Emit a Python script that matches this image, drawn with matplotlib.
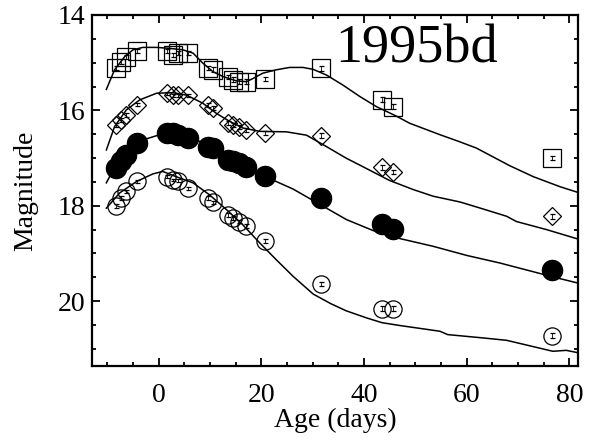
import matplotlib
matplotlib.use("Agg")
import matplotlib.pyplot as plt
from matplotlib.ticker import MultipleLocator

plt.rcParams["font.family"] = ["Liberation Serif", "DejaVu Serif"]

# epochs (days from max) shared by all bands
days = [-8.4, -7.4, -6.4, -4.3, 1.6, 2.7, 3.7, 5.8, 9.6, 10.6,
        13.5, 14.5, 15.6, 17.0, 20.8, 31.6, 43.6, 45.6, 76.7]

u_mag = [15.11, 14.98, 14.88, 14.75, 14.75, 14.84, 14.80, 14.80, 15.11, 15.15,
         15.30, 15.36, 15.40, 15.40, 15.34, 15.12, 15.78, 15.92, 16.99]
b_mag = [16.30, 16.20, 16.09, 15.88, 15.64, 15.68, 15.68, 15.68, 15.88, 15.95,
         16.27, 16.30, 16.34, 16.41, 16.48, 16.53, 17.19, 17.29, 18.22]
v_mag = [17.21, 17.07, 16.93, 16.69, 16.48, 16.48, 16.51, 16.58, 16.76, 16.79,
         17.04, 17.07, 17.11, 17.18, 17.37, 17.84, 18.38, 18.49, 19.34]
r_mag = [18.01, 17.84, 17.70, 17.49, 17.39, 17.46, 17.47, 17.63, 17.84, 17.93,
         18.19, 18.26, 18.33, 18.43, 18.73, 19.64, 20.16, 20.16, 20.72]

u_err = [0.05, 0.05, 0.05, 0.04, 0.04, 0.04, 0.04, 0.04, 0.05, 0.05,
         0.05, 0.05, 0.05, 0.05, 0.04, 0.06, 0.05, 0.06, 0.04]
b_err = [0.04, 0.04, 0.04, 0.03, 0.03, 0.03, 0.03, 0.03, 0.04, 0.04,
         0.04, 0.04, 0.04, 0.04, 0.04, 0.05, 0.05, 0.05, 0.05]
v_err = [0.03, 0.03, 0.03, 0.03, 0.03, 0.03, 0.03, 0.03, 0.03, 0.03,
         0.03, 0.03, 0.03, 0.03, 0.03, 0.04, 0.04, 0.04, 0.05]
r_err = [0.04, 0.04, 0.04, 0.03, 0.03, 0.03, 0.03, 0.03, 0.04, 0.04,
         0.04, 0.04, 0.04, 0.04, 0.04, 0.05, 0.05, 0.05, 0.05]

# model light curves
u_fit_t = [-10.2, -8.6, -6.6, -5.0, -3.1, -0.4, 2.1, 4.7, 6.7, 8.6, 10.6, 12.5,
           15.1, 17.1, 18.4, 20.3, 22.9, 25.5, 28.1, 30.1, 32.7, 35.9, 39.2,
           42.4, 46.3, 48.9, 54.8, 58.7, 61.9, 68.4, 73.0, 78.2, 81.7]
u_fit = [15.56, 15.15, 14.87, 14.73, 14.68, 14.68, 14.70, 14.73, 14.80, 15.01,
         15.19, 15.29, 15.38, 15.40, 15.33, 15.22, 15.15, 15.10, 15.10, 15.14,
         15.26, 15.47, 15.71, 15.92, 16.12, 16.27, 16.51, 16.66, 16.79, 17.16,
         17.39, 17.60, 17.72]
b_fit_t = [-10.2, -8.6, -6.3, -3.7, -0.4, 2.8, 5.4, 8.6, 11.2, 13.8, 16.4, 19.7,
           24.9, 28.8, 32.7, 36.5, 40.5, 45.0, 49.6, 53.5, 58.7, 63.0, 67.8,
           69.7, 75.6, 82.1]
b_fit = [16.83, 16.34, 15.99, 15.78, 15.64, 15.63, 15.68, 15.85, 16.06, 16.23,
         16.37, 16.44, 16.45, 16.52, 16.76, 17.00, 17.22, 17.47, 17.66, 17.80,
         17.92, 18.06, 18.22, 18.33, 18.50, 18.71]
v_fit_t = [-10.2, -8.2, -5.6, -3.1, 0.2, 3.4, 6.7, 9.9, 13.2, 17.1, 21.0, 26.2,
           31.4, 36.6, 41.8, 46.3, 53.5, 60.0, 66.5, 72.9, 76.8, 81.7]
v_fit = [17.52, 17.11, 16.76, 16.62, 16.51, 16.51, 16.58, 16.76, 16.97, 17.21,
         17.40, 17.65, 17.97, 18.29, 18.52, 18.67, 18.85, 19.04, 19.20, 19.38,
         19.49, 19.62]
r_fit_t = [-10.2, -7.6, -4.3, -1.1, 0.8, 3.4, 6.7, 9.9, 13.2, 16.4, 19.7, 22.9,
           26.2, 30.1, 33.5, 36.5, 40.5, 43.5, 47.0, 54.8, 56.3, 63.2, 67.8,
           72.9, 76.8, 79.4, 81.7]
r_fit = [18.05, 17.73, 17.49, 17.33, 17.28, 17.39, 17.52, 17.77, 18.08, 18.40,
         18.78, 19.13, 19.48, 19.85, 20.05, 20.20, 20.35, 20.45, 20.51, 20.63,
         20.70, 20.77, 20.82, 20.95, 21.05, 21.03, 21.08]

fig = plt.figure(figsize=(5.95, 4.40), dpi=100)
ax = fig.add_axes([0.1546, 0.168, 0.8168, 0.798])

for t, m in [(u_fit_t, u_fit), (b_fit_t, b_fit), (v_fit_t, v_fit), (r_fit_t, r_fit)]:
    ax.plot(t, m, color="black", lw=1.1, zorder=2)

ax.errorbar(days, u_mag, yerr=u_err, fmt="s", ms=12.6, mfc="none", mec="black",
            mew=0.9, ecolor="black", elinewidth=0.6, capsize=1.8, zorder=3)
ax.errorbar(days, b_mag, yerr=b_err, fmt="D", ms=8.9, mfc="none", mec="black",
            mew=0.9, ecolor="black", elinewidth=0.6, capsize=1.8, zorder=3)
ax.errorbar(days, v_mag, yerr=v_err, fmt="o", ms=14.6, mfc="black", mec="black",
            mew=0.9, ecolor="black", elinewidth=0.6, capsize=1.8, zorder=3)
ax.errorbar(days, r_mag, yerr=r_err, fmt="o", ms=12.4, mfc="none", mec="black",
            mew=0.9, ecolor="black", elinewidth=0.6, capsize=1.8, zorder=3)

ax.set_xlim(-13, 81.7)
ax.set_ylim(21.36, 14)
ax.xaxis.set_major_locator(MultipleLocator(20))
ax.xaxis.set_minor_locator(MultipleLocator(5))
ax.yaxis.set_major_locator(MultipleLocator(2))
ax.yaxis.set_minor_locator(MultipleLocator(0.5))
ax.tick_params(which="both", direction="in", top=True, right=True, width=1.3,
               labelsize=20)
ax.tick_params(which="major", length=6)
ax.tick_params(which="minor", length=3)
ax.tick_params(axis="x", pad=12)
ax.tick_params(axis="y", pad=5)
for s in ax.spines.values():
    s.set_linewidth(1.6)

ax.set_xlabel("Age (days)", fontsize=20, labelpad=0)
ax.set_ylabel("Magnitude", fontsize=20, labelpad=14)
ax.text(50.3, 15.0, "1995bd", fontsize=39, ha="center", va="baseline")

fig.savefig("out.png", dpi=100)
